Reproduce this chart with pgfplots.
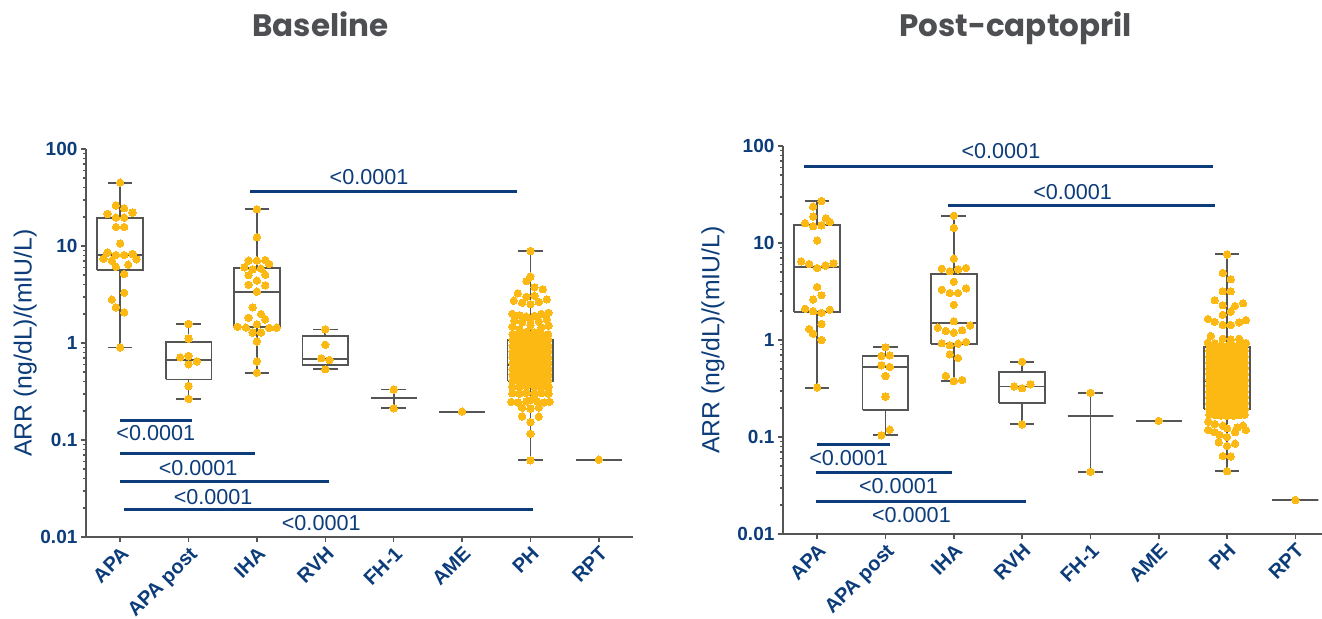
\documentclass[border=0pt]{standalone}
\usepackage{fontspec}
\setmainfont{Liberation Sans}
\newfontfamily\titlefont{Poppins}
\usepackage{pgfplots}
\pgfplotsset{compat=1.18}
\definecolor{navy}{RGB}{12,60,122}
\definecolor{bargold}{RGB}{253,185,19}
\definecolor{boxgray}{RGB}{85,85,85}
\definecolor{titlegray}{RGB}{77,79,83}

\pgfplotsset{
  bx/.style={draw=boxgray, line width=0.9pt, mark=none, solid},
  pts/.style={only marks, mark=*, mark size=1.85pt, color=bargold, mark options={fill=bargold, draw=bargold, line width=0pt}},
  sig/.style={draw=navy, line width=1.5pt, mark=none},
}
\tikzset{sigt/.style={font=\fontsize{10.8}{12}\selectfont, text=navy, inner sep=0pt}}

% pos, lower whisker, q1, median, q3, upper whisker
\newcommand{\bxw}[6]{%
  \pgfmathsetmacro\bxL{#1-0.335}\pgfmathsetmacro\bxR{#1+0.335}%
  \pgfmathsetmacro\bcL{#1-0.18}\pgfmathsetmacro\bcR{#1+0.18}%
  \addplot[bx] coordinates {(#1,#3) (#1,#2)};
  \addplot[bx] coordinates {(#1,#5) (#1,#6)};
  \addplot[bx] coordinates {(\bcL,#2) (\bcR,#2)};
  \addplot[bx] coordinates {(\bcL,#6) (\bcR,#6)};
  \addplot[bx, fill=white] coordinates {(\bxL,#3) (\bxR,#3) (\bxR,#5) (\bxL,#5) (\bxL,#3)};
  \addplot[bx] coordinates {(\bxL,#4) (\bxR,#4)};
}

\begin{document}
\begin{tikzpicture}
\path[use as bounding box] (0,0) rectangle (661pt,309.5pt);

\node[font={\titlefont\fontsize{15.5}{18}\selectfont\bfseries}, text=titlegray, anchor=base] at (160.2pt,291pt) {Baseline};
\node[font={\titlefont\fontsize{15.5}{18}\selectfont\bfseries}, text=titlegray, anchor=base] at (507.8pt,291pt) {Post-captopril};

% ---------------- Baseline ----------------
\begin{axis}[
    scale only axis, width=273.5pt, height=194pt,
    at={(43pt,41pt)}, anchor=south west,
    ymode=log, ymin=0.01, ymax=100, xmin=-0.5, xmax=7.5,
    axis lines=left, axis line style={-, draw=boxgray, line width=1pt},
    clip=false,
    ytick={0.01,0.1,1,10,100}, yticklabels={0.01,0.1,1,10,100},
    minor ytick={0.02,0.03,0.04,0.05,0.06,0.07,0.08,0.09,0.2,0.3,0.4,0.5,0.6,0.7,0.8,0.9,2,3,4,5,6,7,8,9,20,30,40,50,60,70,80,90},
    xtick={0,1,2,3,4,5,6,7},
    xticklabels={APA,APA post,IHA,RVH,FH-1,AME,PH,RPT},
    tick align=outside, major tick length=2.6pt, minor tick length=1.6pt,
    tick style={draw=boxgray, line width=0.8pt},
    yticklabel style={font=\fontsize{9.5}{11}\selectfont\bfseries, text=navy, inner sep=1.5pt},
    xticklabel style={font=\fontsize{10}{12}\selectfont\bfseries, text=navy, rotate=45, anchor=north east, inner sep=1pt},
    ylabel={ARR (ng/dL)/(mIU/L)},
    ylabel style={font=\fontsize{12.4}{14}\selectfont, text=navy, anchor=center, at={(axis description cs:-0.111,0.5)}},
  ]
\bxw{0}{0.90}{5.66}{8.07}{19.6}{45}
\bxw{1}{0.265}{0.421}{0.673}{1.02}{1.57}
\bxw{2}{0.494}{1.45}{3.38}{5.98}{23.9}
\bxw{3}{0.536}{0.597}{0.689}{1.17}{1.38}
\bxw{4}{0.212}{0.271}{0.271}{0.271}{0.331}
\bxw{5}{0.196}{0.196}{0.196}{0.196}{0.196}
\bxw{6}{0.0617}{0.403}{0.589}{1.065}{8.88}
\bxw{7}{0.0627}{0.0627}{0.0627}{0.0627}{0.0627}

% APA
\addplot[pts] coordinates {(0,45) (-0.063,26.2) (0.059,24.5) (-0.185,21.4) (0.180,22.1) (-0.063,19.6) (0.059,19.6) (-0.063,15.7) (0.059,15.7) (0,10.6) (-0.185,8.54) (-0.063,8.08) (0.059,8.08) (0.180,8.27) (-0.244,7.40) (-0.122,7.06) (0.239,7.29) (-0.063,6.12) (0.117,6.42) (0.059,5.14) (0.059,3.30) (-0.122,2.80) (-0.063,2.33) (0.059,2.07) (0,0.90)};
% APA post
\addplot[pts] coordinates {(1,1.57) (1,1.11) (0.878,0.712) (1,0.735) (1,0.603) (1.122,0.647) (1,0.360) (1,0.265)};
% IHA
\addplot[pts] coordinates {(2,23.9) (2,12.3) (1.878,7.06) (2,7.06) (2.122,7.17) (2.18,6.52) (1.815,6.03) (1.937,5.75) (2.059,5.84) (1.878,4.99) (2.122,5.06) (2,4.39) (1.878,3.99) (2.122,3.93) (2,3.38) (1.937,2.33) (2.059,1.99) (1.878,1.82) (2.122,1.75) (2,1.56) (1.717,1.47) (1.839,1.44) (2.18,1.43) (2.288,1.44) (1.937,1.28) (2.059,1.28) (2,1.04) (2,0.647) (2,0.494)};
% RVH, FH-1, AME, RPT
\addplot[pts] coordinates {(3,1.38) (3,0.96) (2.941,0.696) (3.059,0.668) (3,0.536) (4,0.331) (4,0.212) (5,0.196) (7,0.0627)};
% PH outer
\addplot[pts] coordinates {(6,8.88) (6,4.83) (5.941,4.33) (6.059,3.75) (6.18,3.58) (5.815,3.25) (6.059,3.07) (5.941,3.00) (5.756,2.73) (5.878,2.60) (6,2.51) (6.122,2.65) (6.239,2.82) (5.735,2.00) (5.84,1.93) (5.941,1.87) (6.059,1.90) (6.16,1.99) (6.265,2.05) (5.766,1.69) (5.878,1.63) (6,1.76) (6.122,1.66) (6.239,1.76) (5.735,1.47) (5.84,1.39) (6,1.52) (6.16,1.45) (6.265,1.51) (5.941,1.30) (6.059,1.28) (6.122,1.22)
 (5.735,0.355) (5.84,0.352) (5.941,0.358) (6.059,0.350) (6.16,0.356) (6.265,0.353) (5.735,0.303) (5.84,0.300) (5.941,0.306) (6.059,0.298) (6.16,0.304) (6.265,0.301) (5.72,0.247) (5.82,0.243) (5.94,0.250) (6,0.257) (6.10,0.249) (6.2,0.244) (6.28,0.248) (5.878,0.215) (6,0.211) (6.122,0.216) (5.878,0.175) (6.122,0.174) (6,0.153) (6,0.116) (6,0.0617)};
% PH dense rows
\addplot[pts] coordinates {
 (5.74,1.23) (5.825,1.21) (5.91,1.20) (6,1.19) (6.09,1.20) (6.175,1.21) (6.26,1.23)
 (5.78,1.14) (5.865,1.13) (5.955,1.12) (6.045,1.12) (6.135,1.13) (6.22,1.14)
 (5.74,1.08) (5.825,1.06) (5.91,1.05) (6,1.04) (6.09,1.05) (6.175,1.06) (6.26,1.08)
 (5.78,0.995) (5.865,0.985) (5.955,0.977) (6.045,0.977) (6.135,0.985) (6.22,0.995)
 (5.74,0.935) (5.825,0.922) (5.91,0.912) (6,0.905) (6.09,0.912) (6.175,0.922) (6.26,0.935)
 (5.78,0.866) (5.865,0.858) (5.955,0.851) (6.045,0.851) (6.135,0.858) (6.22,0.866)
 (5.74,0.815) (5.825,0.803) (5.91,0.794) (6,0.788) (6.09,0.794) (6.175,0.803) (6.26,0.815)
 (5.78,0.754) (5.865,0.747) (5.955,0.741) (6.045,0.741) (6.135,0.747) (6.22,0.754)
 (5.74,0.710) (5.825,0.700) (5.91,0.692) (6,0.687) (6.09,0.692) (6.175,0.700) (6.26,0.710)
 (5.78,0.658) (5.865,0.652) (5.955,0.646) (6.045,0.646) (6.135,0.652) (6.22,0.658)
 (5.74,0.619) (5.825,0.610) (5.91,0.603) (6,0.598) (6.09,0.603) (6.175,0.610) (6.26,0.619)
 (5.78,0.572) (5.865,0.567) (5.955,0.562) (6.045,0.562) (6.135,0.567) (6.22,0.572)
 (5.74,0.539) (5.825,0.531) (5.91,0.525) (6,0.521) (6.09,0.525) (6.175,0.531) (6.26,0.539)
 (5.78,0.499) (5.865,0.494) (5.955,0.490) (6.045,0.490) (6.135,0.494) (6.22,0.499)
 (5.74,0.469) (5.825,0.462) (5.91,0.457) (6,0.454) (6.09,0.457) (6.175,0.462) (6.26,0.469)
 (5.78,0.435) (5.865,0.431) (5.955,0.427) (6.045,0.427) (6.135,0.431) (6.22,0.435)
 (5.74,0.408) (5.825,0.403) (5.91,0.398) (6,0.395) (6.09,0.398) (6.175,0.403) (6.26,0.408)
};

% significance bars
\addplot[sig] coordinates {(1.90,36.3) (5.81,36.3)};
\addplot[sig] coordinates {(-0.01,0.158) (1.05,0.158)};
\addplot[sig] coordinates {(-0.01,0.0718) (1.97,0.0718)};
\addplot[sig] coordinates {(-0.01,0.0369) (3.05,0.0369)};
\addplot[sig] coordinates {(0.06,0.0193) (6.04,0.0193)};
\node[sigt] at (axis cs:3.64,51.1) {<0.0001};
\node[sigt] at (axis cs:0.52,0.117) {<0.0001};
\node[sigt] at (axis cs:1.14,0.0519) {<0.0001};
\node[sigt] at (axis cs:1.36,0.0261) {<0.0001};
\node[sigt] at (axis cs:2.94,0.0139) {<0.0001};
\end{axis}

% ---------------- Post-captopril ----------------
\begin{axis}[
    scale only axis, width=269.5pt, height=194pt,
    at={(391.5pt,42.5pt)}, anchor=south west,
    ymode=log, ymin=0.01, ymax=100, xmin=-0.5, xmax=7.39,
    axis lines=left, axis line style={-, draw=boxgray, line width=1pt},
    clip=false,
    ytick={0.01,0.1,1,10,100}, yticklabels={0.01,0.1,1,10,100},
    minor ytick={0.02,0.03,0.04,0.05,0.06,0.07,0.08,0.09,0.2,0.3,0.4,0.5,0.6,0.7,0.8,0.9,2,3,4,5,6,7,8,9,20,30,40,50,60,70,80,90},
    xtick={0,1,2,3,4,5,6,7},
    xticklabels={APA,APA post,IHA,RVH,FH-1,AME,PH,RPT},
    tick align=outside, major tick length=2.6pt, minor tick length=1.6pt,
    tick style={draw=boxgray, line width=0.8pt},
    yticklabel style={font=\fontsize{9.5}{11}\selectfont\bfseries, text=navy, inner sep=1.5pt},
    xticklabel style={font=\fontsize{10}{12}\selectfont\bfseries, text=navy, rotate=45, anchor=north east, inner sep=1pt},
    ylabel={ARR (ng/dL)/(mIU/L)},
    ylabel style={font=\fontsize{12.4}{14}\selectfont, text=navy, anchor=center, at={(axis description cs:-0.130,0.5)}},
  ]
\bxw{0}{0.323}{1.96}{5.66}{15.3}{27.1}
\bxw{1}{0.104}{0.190}{0.528}{0.684}{0.841}
\bxw{2}{0.377}{0.916}{1.50}{4.83}{19.1}
\bxw{3}{0.135}{0.226}{0.331}{0.471}{0.597}
\bxw{4}{0.0438}{0.166}{0.166}{0.166}{0.286}
\bxw{5}{0.147}{0.147}{0.147}{0.147}{0.147}
\bxw{6}{0.0443}{0.196}{0.377}{0.841}{7.64}
\bxw{7}{0.0224}{0.0224}{0.0224}{0.0224}{0.0224}

% APA
\addplot[pts] coordinates {(0.063,27.1) (-0.059,23.7) (-0.059,18.8) (0.127,18.0) (0.185,16.5) (-0.176,16.0) (-0.059,14.9) (0.063,15.2) (0,10.6) (-0.234,6.47) (-0.117,6.08) (0.122,5.84) (0.239,6.17) (0,5.52) (0,3.52) (0.063,2.89) (-0.059,2.61) (-0.176,2.10) (-0.059,1.98) (0.063,1.91) (0.185,2.05) (0.063,1.46) (-0.117,1.30) (-0.059,1.16) (0.063,1.00) (0,0.323)};
% APA post
\addplot[pts] coordinates {(1,0.841) (0.941,0.684) (1.063,0.695) (0.941,0.548) (1.063,0.528) (1,0.426) (1,0.261) (1.063,0.119) (0.941,0.104)};
% IHA
\addplot[pts] coordinates {(2,19.1) (2,14.3) (2,6.89) (1.824,5.43) (1.941,5.11) (2.063,5.35) (2.18,5.52) (2,3.99) (1.824,3.30) (1.941,3.05) (2.063,3.05) (2.18,3.41) (2,2.31) (2,1.56) (1.766,1.34) (1.883,1.24) (2,1.19) (2.122,1.26) (2.239,1.41) (1.824,0.925) (1.941,0.882) (2.063,0.916) (2.18,0.953) (1.941,0.712) (2.063,0.652) (1.883,0.426) (2.122,0.387) (2,0.377)};
% RVH, FH-1, AME, RPT
\addplot[pts] coordinates {(3,0.597) (2.883,0.331) (3,0.318) (3.122,0.349) (3,0.135) (4,0.286) (4,0.0438) (5,0.147) (7,0.0224)};
% PH outer
\addplot[pts] coordinates {(6,7.64) (5.937,4.91) (6.054,4.23) (5.937,3.18) (6.054,3.18) (5.82,2.57) (5.937,2.28) (6.117,2.24) (6.234,2.39) (6.054,1.96) (5.937,1.82) (5.72,1.65) (5.82,1.54) (5.937,1.43) (6.054,1.43) (6.176,1.52) (6.275,1.60) (5.761,1.10) (5.937,1.03) (6.054,1.01) (6.176,1.03) (5.72,0.935) (5.82,0.925) (6.234,0.925) (6.275,0.93)
 (5.725,0.144) (5.82,0.136) (5.937,0.131) (6.151,0.125) (6.234,0.131) (5.725,0.118) (5.82,0.112) (6,0.123) (6.117,0.112) (6.275,0.118) (5.888,0.105) (6,0.100) (5.878,0.0881) (6.117,0.0853) (6,0.0808) (5.937,0.0637) (6.054,0.0628) (6,0.0443)};
% PH dense rows
\addplot[pts] coordinates {
 (5.74,0.890) (5.825,0.880) (5.91,0.871) (6,0.865) (6.09,0.871) (6.175,0.880) (6.26,0.890)
 (5.78,0.826) (5.865,0.819) (5.955,0.813) (6.045,0.813) (6.135,0.819) (6.22,0.826)
 (5.74,0.776) (5.825,0.767) (5.91,0.759) (6,0.754) (6.09,0.759) (6.175,0.767) (6.26,0.776)
 (5.78,0.719) (5.865,0.713) (5.955,0.708) (6.045,0.708) (6.135,0.713) (6.22,0.719)
 (5.74,0.676) (5.825,0.668) (5.91,0.661) (6,0.657) (6.09,0.661) (6.175,0.668) (6.26,0.676)
 (5.78,0.627) (5.865,0.622) (5.955,0.617) (6.045,0.617) (6.135,0.622) (6.22,0.627)
 (5.74,0.588) (5.825,0.581) (5.91,0.575) (6,0.571) (6.09,0.575) (6.175,0.581) (6.26,0.588)
 (5.78,0.546) (5.865,0.541) (5.955,0.537) (6.045,0.537) (6.135,0.541) (6.22,0.546)
 (5.74,0.512) (5.825,0.506) (5.91,0.501) (6,0.498) (6.09,0.501) (6.175,0.506) (6.26,0.512)
 (5.78,0.475) (5.865,0.471) (5.955,0.468) (6.045,0.468) (6.135,0.471) (6.22,0.475)
 (5.74,0.447) (5.825,0.442) (5.91,0.437) (6,0.434) (6.09,0.437) (6.175,0.442) (6.26,0.447)
 (5.78,0.414) (5.865,0.410) (5.955,0.407) (6.045,0.407) (6.135,0.410) (6.22,0.414)
 (5.74,0.389) (5.825,0.384) (5.91,0.380) (6,0.378) (6.09,0.380) (6.175,0.384) (6.26,0.389)
 (5.78,0.361) (5.865,0.358) (5.955,0.355) (6.045,0.355) (6.135,0.358) (6.22,0.361)
 (5.74,0.338) (5.825,0.335) (5.91,0.331) (6,0.329) (6.09,0.331) (6.175,0.335) (6.26,0.338)
 (5.78,0.314) (5.865,0.311) (5.955,0.309) (6.045,0.309) (6.135,0.311) (6.22,0.314)
 (5.74,0.294) (5.825,0.291) (5.91,0.288) (6,0.286) (6.09,0.288) (6.175,0.291) (6.26,0.294)
 (5.78,0.273) (5.865,0.271) (5.955,0.269) (6.045,0.269) (6.135,0.271) (6.22,0.273)
 (5.74,0.257) (5.825,0.254) (5.91,0.251) (6,0.249) (6.09,0.251) (6.175,0.254) (6.26,0.257)
 (5.78,0.238) (5.865,0.236) (5.955,0.234) (6.045,0.234) (6.135,0.236) (6.22,0.238)
 (5.74,0.224) (5.825,0.221) (5.91,0.219) (6,0.218) (6.09,0.219) (6.175,0.221) (6.26,0.224)
 (5.78,0.207) (5.865,0.206) (5.955,0.204) (6.045,0.204) (6.135,0.206) (6.22,0.207)
 (5.74,0.195) (5.825,0.193) (5.91,0.191) (6,0.190) (6.09,0.191) (6.175,0.193) (6.26,0.195)
 (5.78,0.181) (5.865,0.179) (5.955,0.178) (6.045,0.178) (6.135,0.179) (6.22,0.181)
 (5.74,0.170) (5.825,0.168) (5.91,0.166) (6,0.165) (6.09,0.166) (6.175,0.168) (6.26,0.170)
};

% significance bars
\addplot[sig] coordinates {(-0.19,62.2) (5.79,62.2)};
\addplot[sig] coordinates {(1.92,24.5) (5.82,24.5)};
\addplot[sig] coordinates {(0,0.0839) (1.06,0.0839)};
\addplot[sig] coordinates {(-0.02,0.0432) (1.97,0.0432)};
\addplot[sig] coordinates {(-0.02,0.0215) (3.06,0.0215)};
\node[sigt] at (axis cs:2.69,89.5) {<0.0001};
\node[sigt] at (axis cs:3.74,33.8) {<0.0001};
\node[sigt] at (axis cs:0.46,0.0602) {<0.0001};
\node[sigt] at (axis cs:1.19,0.0313) {<0.0001};
\node[sigt] at (axis cs:1.38,0.0157) {<0.0001};
\end{axis}
\end{tikzpicture}
\end{document}
